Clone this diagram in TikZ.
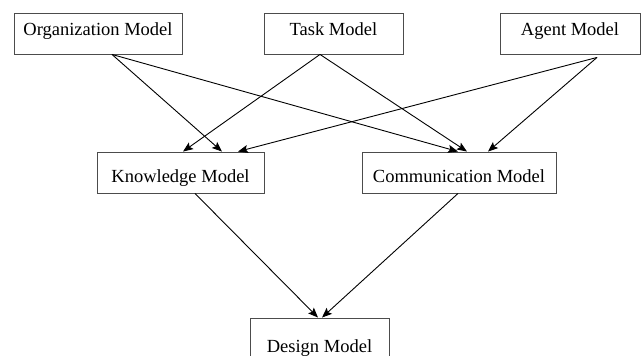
\documentclass[tikz,border=0pt]{standalone}
\usepackage{fontspec}
\setmainfont{Liberation Serif}
\usetikzlibrary{arrows.meta}

\tikzset{
  model/.style={draw=black!70, line width=.9pt, inner sep=0pt, minimum height=41pt,
    font=\fontsize{18.5}{22}\selectfont},
  top/.style={model, text height=22pt, text depth=19pt},
  mid/.style={model, text height=30pt, text depth=11pt},
  low/.style={model, text height=34pt, text depth=7pt},
  flow/.style={line width=.9pt, -{Stealth[length=10pt,width=8pt,inset=2pt]}}
}

\begin{document}
\begin{tikzpicture}[x=1pt,y=-1pt]
  \clip (0,0) rectangle (641,356);

  % boxes
  \node[top, minimum width=168pt] (org) at (98,33.5) {Organization Model};
  \node[top, minimum width=139pt] (task) at (333.5,33.5) {Task Model};
  \node[top, minimum width=140pt] (agent) at (570,33.5) {Agent Model};
  \node[mid, minimum width=167pt] (know) at (180.5,172.5) {Knowledge Model};
  \node[mid, minimum width=194pt] (comm) at (459,172.5) {Communication Model};
  \node[low, minimum width=139pt] (design) at (319.5,338.5) {Design Model};

  % top row to middle row
  \draw[flow] ([xshift=14pt]org.south) -- ([xshift=41.5pt]know.north);
  \draw[flow] ([xshift=14pt]org.south) -- ([xshift=-1pt]comm.north);
  \draw[flow] ([xshift=-13.5pt]task.south) -- ([xshift=2.5pt]know.north);
  \draw[flow] ([xshift=-13.5pt]task.south) -- ([xshift=8pt]comm.north);
  \draw[flow] ([xshift=27pt,yshift=-3pt]agent.south) -- ([xshift=57.5pt]know.north);
  \draw[flow] ([xshift=27pt,yshift=-3pt]agent.south) -- ([xshift=29pt]comm.north);

  % middle row to design
  \draw[flow] ([xshift=14.5pt]know.south) -- ([xshift=-1.5pt]design.north);
  \draw[flow] ([xshift=-1pt]comm.south) -- ([xshift=2.5pt]design.north);
\end{tikzpicture}
\end{document}
